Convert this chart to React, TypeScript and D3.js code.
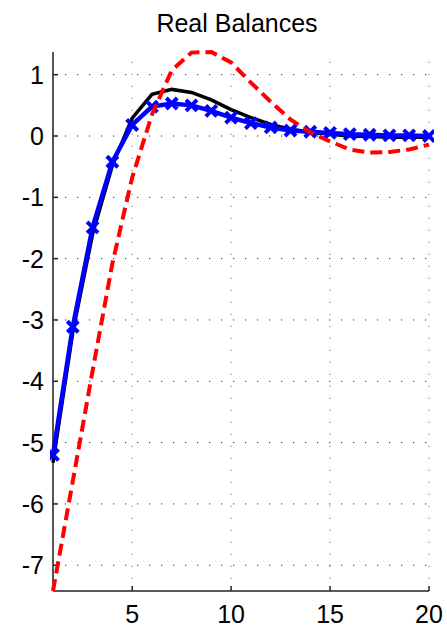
import React from "react";
import * as d3 from "d3";

// periods 1..20
const periods = d3.range(1, 21);

// black solid line
const blackSeries = [
  -5.33, -3.2, -1.6, -0.48, 0.29, 0.68, 0.76, 0.71, 0.59, 0.43, 0.3, 0.19, 0.11,
  0.06, 0.03, 0.0, -0.01, -0.02, -0.02, -0.02,
];

// red dashed line
const redSeries = [
  -7.42, -5.63, -3.83, -2.08, -0.68, 0.35, 1.07, 1.36, 1.37, 1.2, 0.87, 0.56,
  0.27, 0.06, -0.09, -0.22, -0.27, -0.26, -0.22, -0.14,
];

// blue line with x markers
const blueSeries = [
  -5.2, -3.11, -1.49, -0.42, 0.18, 0.48, 0.53, 0.5, 0.41, 0.3, 0.21, 0.14, 0.09,
  0.07, 0.05, 0.03, 0.02, 0.01, 0.01, 0.0,
];

const xTickValues = [5, 10, 15, 20];
const yTickValues = [-7, -6, -5, -4, -3, -2, -1, 0, 1];

const width = 447;
const height = 627;
const left = 53;
const right = 429;
const top = 52;
const bottom = 591;

const App = () => {
  const xScale = d3.scaleLinear().domain([1, 20]).range([left, right]);
  const yScale = d3.scaleLinear().domain([-7.42, 1.37]).range([bottom, top]);

  const line = d3
    .line<number>()
    .x((d, i) => xScale(periods[i]))
    .y((d) => yScale(d));

  const font = "'Liberation Sans', Arial, Helvetica, sans-serif";

  return (
    <svg
      width={width}
      height={height}
      style={{ position: "absolute", left: 0, top: 0, background: "#fff" }}
    >
      <defs>
        <clipPath id="plot">
          <rect x={left - 3} y={top - 2} width={right - left + 8} height={bottom - top + 4} />
        </clipPath>
      </defs>

      {/* Title */}
      <text
        x={(left + right) / 2 - 4}
        y={32}
        textAnchor="middle"
        fontSize={25}
        fontFamily={font}
        fill="#000"
      >
        Real Balances
      </text>

      {/* Grid */}
      {yTickValues.map((t) => (
        <line
          key={"gy" + t}
          x1={left}
          x2={right}
          y1={yScale(t)}
          y2={yScale(t)}
          stroke="#222"
          strokeWidth={1}
          strokeDasharray="1.2,10.8"
        />
      ))}
      {xTickValues.map((t) => (
        <line
          key={"gx" + t}
          x1={xScale(t)}
          x2={xScale(t)}
          y1={bottom}
          y2={top}
          stroke="#777"
          strokeWidth={1}
          strokeDasharray="1.2,10.8"
        />
      ))}

      {/* Axes */}
      <line x1={left} x2={right} y1={bottom} y2={bottom} stroke="#222" strokeWidth={1.5} />
      <line x1={left} x2={left} y1={top} y2={bottom} stroke="#555" strokeWidth={2} />

      {/* X ticks */}
      {xTickValues.map((t) => (
        <g key={"tx" + t} transform={`translate(${xScale(t)}, ${bottom})`}>
          <line y2={-5} stroke="#222" strokeWidth={1.5} />
          <text y={32} textAnchor="middle" fontSize={25} fontFamily={font} fill="#000">
            {t}
          </text>
        </g>
      ))}

      {/* Y ticks */}
      {yTickValues.map((t) => (
        <g key={"ty" + t} transform={`translate(${left}, ${yScale(t)})`}>
          <line x2={5} stroke="#222" strokeWidth={1.5} />
          <text
            x={-9}
            dy="0.36em"
            textAnchor="end"
            fontSize={25}
            fontFamily={font}
            fill="#000"
          >
            {t}
          </text>
        </g>
      ))}

      <g clipPath="url(#plot)">
        {/* Black line */}
        <path d={line(blackSeries) ?? ""} fill="none" stroke="#000" strokeWidth={3.5} />

        {/* Blue line with markers */}
        <path d={line(blueSeries) ?? ""} fill="none" stroke="#0000ff" strokeWidth={4.5} />
        {blueSeries.map((v, i) => {
          const cx = xScale(periods[i]);
          const cy = yScale(v);
          const s = 5.5;
          return (
            <path
              key={"m" + i}
              d={`M${cx - s},${cy - s}L${cx + s},${cy + s}M${cx - s},${cy + s}L${cx + s},${cy - s}`}
              stroke="#0000ff"
              strokeWidth={4}
              fill="none"
            />
          );
        })}

        {/* Red dashed line */}
        <path
          d={line(redSeries) ?? ""}
          fill="none"
          stroke="#ff0000"
          strokeWidth={4}
          strokeDasharray="12,6"
        />
      </g>
    </svg>
  );
};

export default App;
